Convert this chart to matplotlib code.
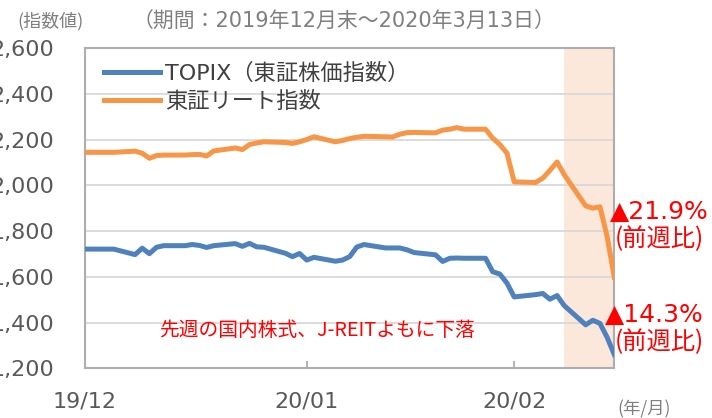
import matplotlib
matplotlib.use("Agg")
import matplotlib.pyplot as plt
import pandas as pd

plt.rcParams['font.family'] = ['Noto Sans CJK JP', 'DejaVu Sans']
latin_first = ['DejaVu Sans', 'Noto Sans CJK JP']

# weekdays from 2019/12/30 to 2020/03/13 (holidays carry the previous value)
dates = pd.bdate_range('2019-12-30', '2020-03-13')

topix = [1721, 1721,
         1721, 1721, 1721, 1697, 1725, 1701, 1729, 1736,
         1736, 1741, 1737, 1728, 1736, 1745, 1733, 1746, 1731, 1729,
         1703, 1688, 1702, 1673, 1685,
         1668, 1673, 1688, 1730, 1741, 1726, 1726, 1726, 1718, 1706,
         1696, 1667, 1681, 1682, 1681, 1681, 1622, 1612, 1572, 1512,
         1522, 1527, 1502, 1518, 1474, 1390, 1410, 1396, 1335, 1260]

reit = [2144, 2144,
        2144, 2144, 2144, 2149, 2140, 2118, 2130, 2132,
        2132, 2134, 2135, 2128, 2150, 2163, 2156, 2178, 2185, 2190,
        2187, 2183, 2190, 2200, 2212,
        2190, 2196, 2204, 2210, 2214, 2212, 2211, 2223, 2230, 2231,
        2229, 2241, 2245, 2252, 2245, 2245, 2206, 2178, 2140, 2015,
        2012, 2031, 2065, 2102, 2046, 1910, 1900, 1906, 1775, 1598]

assert len(dates) == len(topix) == len(reit)

yticks = [1200, 1400, 1600, 1800, 2000, 2200, 2400, 2600]
xtick_dates = pd.to_datetime(['2019-12-30', '2020-01-30', '2020-02-28'])
xtick_labels = ['19/12', '20/01', '20/02']
shade_start, shade_end = pd.Timestamp('2020-03-06'), pd.Timestamp('2020-03-13')

blue = '#4F81BD'
orange = '#F79646'
red = '#FF0000'
gray = '#595959'

fig = plt.figure(figsize=(7.12, 4.18), dpi=100)
ax = fig.add_axes([85/712, 1-368.3/418, (614.3-85)/712, (368.3-48)/418])

ax.axvspan(shade_start, shade_end, color='#FCE8DA', zorder=0, lw=0)
ax.plot(dates, topix, color=blue, lw=3.6, solid_joinstyle='round', label='TOPIX（東証株価指数）', zorder=3)
ax.plot(dates, reit, color=orange, lw=3.6, solid_joinstyle='round', label='東証リート指数', zorder=3)

ax.set_xlim(dates[0], dates[-1])
ax.set_ylim(1200, 2600)
ax.set_yticks(yticks)
ax.set_yticklabels(['{:,}'.format(v) for v in yticks], family=latin_first)
ax.set_xticks(xtick_dates)
ax.set_xticklabels(xtick_labels, family=latin_first)

ax.set_axisbelow(True)
ax.yaxis.grid(True, color='#D9D9D9', lw=1.3)
for s in ax.spines.values():
    s.set_color('#ADADAD')
    s.set_linewidth(1.5)

ax.tick_params(axis='y', length=0, pad=22, labelsize=16, labelcolor=gray)
ax.tick_params(axis='x', direction='in', length=5, width=1.3, color='#ADADAD',
               pad=17, labelsize=16, labelcolor=gray)

leg = ax.legend(loc='upper left', bbox_to_anchor=(104/712, 1-63/418), bbox_transform=fig.transFigure,
                frameon=False, prop={'family': latin_first, 'size': 16}, handlelength=2.5,
                handletextpad=0.25, labelspacing=0.3, borderpad=0, borderaxespad=0)
for t in leg.get_texts():
    t.set_color('#404040')

def ftxt(x, y, s, **kw):
    fig.text(x/712, 1-y/418, s, va='center', **kw)

ftxt(17, 21, '(指数値)', fontsize=13, color='#7F7F7F')
ftxt(133, 22, '（期間：2019年12月末～2020年3月13日）', fontsize=15, color='#7F7F7F', family=latin_first)
ftxt(617, 409, '(年/月)', fontsize=12.5, color='#7F7F7F')

ftxt(610, 212, '▲21.9%', fontsize=18, color=red, family=latin_first)
ftxt(615, 239, '(前週比)', fontsize=17.5, color=red)
ftxt(605, 315, '▲14.3%', fontsize=18, color=red, family=latin_first)
ftxt(615, 342, '(前週比)', fontsize=17.5, color=red)
ftxt(159, 330, '先週の国内株式、J-REITよもに下落', fontsize=14.2, color=red)

fig.savefig('out.png', dpi=100)
